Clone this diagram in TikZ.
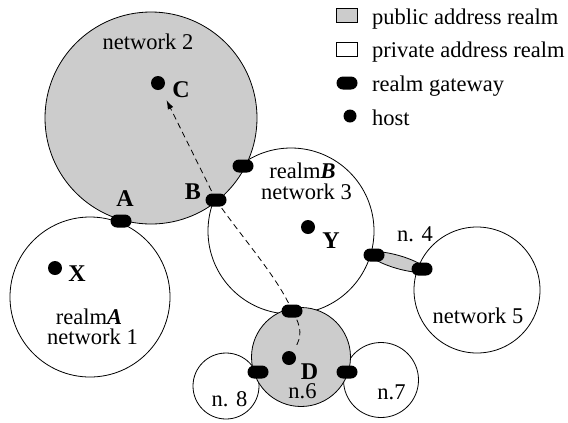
\documentclass[tikz,border=0pt]{standalone}
\usepackage{fontspec}
\setmainfont{Liberation Serif}
\usetikzlibrary{shapes.geometric,arrows.meta}
\definecolor{pubgray}{gray}{0.8}
\begin{document}
\begin{tikzpicture}[x=1bp,y=-1bp,
  font=\fontsize{22.5bp}{27bp}\selectfont,
  net/.style={circle, draw, line width=0.8bp, inner sep=0pt},
  pub/.style={net, fill=pubgray},
  priv/.style={net, fill=white},
  gw/.style={rectangle, rounded corners=6.5bp, fill=black, minimum width=21bp, minimum height=13bp, inner sep=0pt},
  host/.style={circle, fill=black, minimum size=14bp, inner sep=0pt},
  lbl/.style={anchor=base, inner sep=0pt},
  boldlbl/.style={lbl, font=\fontsize{24bp}{28bp}\selectfont\bfseries},
  leg/.style={anchor=base west, inner sep=0pt},
  legbox/.style={rectangle, draw, line width=0.8bp, minimum width=21bp, minimum height=14bp, inner sep=0pt},
  route/.style={dash pattern=on 6bp off 4bp, line width=0.8bp}]

\useasboundingbox (0,0) rectangle (568,422);

% networks
\node[priv, minimum size=166bp] (n3) at (291,231) {};
\node[pub, minimum size=212bp] (n2) at (151,118) {};
\node[priv, minimum size=160bp] (n1) at (90,297) {};
\node[priv, minimum size=126bp] (n5) at (477,290) {};
\node[ellipse, draw, fill=pubgray, line width=0.8bp, minimum width=58bp, minimum height=13bp, inner sep=0pt, rotate=-16.3] (n4) at (398,262) {};
\node[priv, minimum size=66bp] (n8) at (226,386) {};
\node[priv, minimum size=75bp] (n7) at (381,380) {};
\node[pub, minimum size=99bp] (n6) at (301,357) {};

% hosts
\node[host] (hC) at (158,83) {};
\node[host] (hX) at (55,268) {};
\node[host] (hY) at (308,227) {};
\node[host] (hD) at (289,358) {};

% gateways (coordinates for routes)
\coordinate (pB) at (216,200);
\coordinate (pD) at (292,311);

% routes
\draw[route, -{Latex[length=9bp,width=6bp]}, shorten >=12bp] (pB) -- (hC);
\draw[route] (pB) .. controls (240,235) and (280,280) .. (pD);
\draw[route, shorten >=5bp] (pD) .. controls (303,328) and (301,338) .. (hD);

% gateways
\node[gw] (gA) at (121,221) {};
\node[gw] (gB) at (pB) {};
\node[gw] (gB2) at (243,166) {};
\node[gw] (g4a) at (374,255) {};
\node[gw] (g4b) at (422,269) {};
\node[gw] (gD) at (pD) {};
\node[gw] (g8) at (258,372) {};
\node[gw] (g7) at (347,372) {};

% labels
\node[lbl] (tN2) at (148,49) {network 2};
\node[boldlbl] (tC) at (181,97) {C};
\node[boldlbl] (tA) at (125,206) {A};
\node[boldlbl] (tB) at (193,199) {B};
\node[boldlbl] (tX) at (77,281) {X};
\node[lbl] (tRA) at (89,324) {realm\textbf{\textit{A}}};
\node[lbl] (tN1) at (92.5,344) {network 1};
\node[lbl] (tRB) at (302.5,178) {realm\textbf{\textit{B}}};
\node[lbl] (tN3) at (306.5,199) {network 3};
\node[boldlbl] (tY) at (331,248) {Y};
\node[lbl] (tN4) at (415,241) {n. 4};
\node[lbl] (tN5) at (478,323) {network 5};
\node[lbl] (tN7) at (391.5,399) {n.7};
\node[lbl] (tN6) at (302.5,398) {n.6};
\node[lbl] (tN8) at (229.5,406) {n. 8};
\node[boldlbl] (tD) at (309.5,379) {D};

% legend
\node[legbox, fill=pubgray] (lgPub) at (346.5,15.5) {};
\node[legbox, fill=white] (lgPriv) at (346.5,49.5) {};
\node[gw] (lgGw) at (347,83) {};
\node[host, minimum size=13bp] (lgHost) at (350,116) {};
\node[leg] (lgT1) at (372,24.5) {public address realm};
\node[leg] (lgT2) at (372,57.5) {private address realm};
\node[leg] (lgT3) at (372,91) {realm gateway};
\node[leg] (lgT4) at (372,125) {host};
\end{tikzpicture}
\end{document}
